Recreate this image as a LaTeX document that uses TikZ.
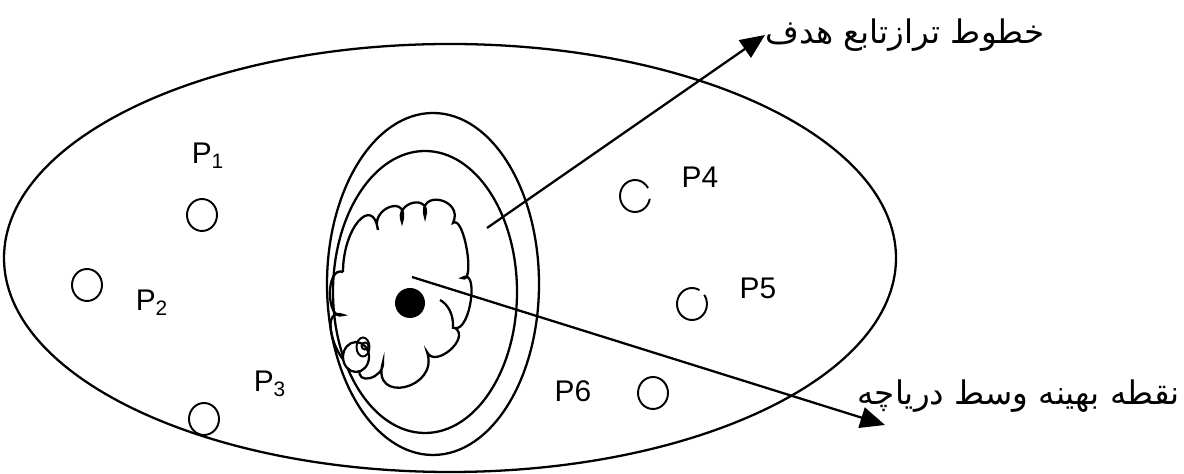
\documentclass[tikz,border=0pt]{standalone}
\usepackage{fontspec}
\setmainfont{Liberation Sans}
\newfontfamily\farsi[Script=Arabic]{DejaVu Sans}
\TeXXeTstate=1
\usepackage{tikz}
\usetikzlibrary{arrows.meta,positioning}
\tikzset{
  contorno/.style={draw=black,line width=1.3pt},
  punto/.style={draw=black,line width=1.1pt},
  flecha/.style={-{Triangle[length=14pt,width=12pt]},line width=1.3pt},
  etiq/.style={font=\fontsize{17}{20}\selectfont,inner sep=0pt},
  rotulo/.style={font=\farsi\fontsize{18.5}{22}\selectfont,inner sep=0pt}
}
\begin{document}
\begin{tikzpicture}
\useasboundingbox (0,0) rectangle (23.68,9.48);
% region exterior
\draw[contorno] (9,4.32) ellipse (8.92 and 4.28);
% curvas de nivel
\draw[contorno] (8.66,3.8) ellipse (2.12 and 3.42);
\draw[contorno] (8.5,3.64) ellipse (1.84 and 2.82);
% dariache
\draw[contorno] (6.86,4.04) .. controls +(0,0.9) and +(-0.1,0.7) .. (7.56,4.88)
  .. controls +(-0.17,0.45) and +(0.17,0.57) .. (8.04,5.04)
  .. controls +(-0.17,0.41) and +(0.15,0.48) .. (8.5,5.14)
  .. controls +(-0.17,0.57) and +(0.23,0.49) .. (9.06,5.02)
  .. controls +(0.22,0.18) and +(0.28,-0.15) .. (9.24,3.92)
  .. controls +(0.35,0.23) and +(0.31,-0.07) .. (9.1,2.92)
  .. controls +(0.32,-0.2) and +(0.16,-0.34) .. (8.54,2.44)
  .. controls +(0.26,-0.74) and +(-0.26,-0.86) .. (7.66,2.24)
  .. controls +(0.03,-0.33) and +(-0.11,-0.37) .. (7.2,2.12)
  .. controls +(-0.44,-0.12) and +(-0.54,0.2) .. (6.86,3.18)
  .. controls +(-0.35,-0.13) and +(-0.35,0.13) .. (6.86,4.04);
\draw[contorno] (8.8,3.48) .. controls (8.95,3.4) and (9.08,3.2) .. (9.06,2.9);
\draw[contorno,fill=white] (7.12,2.34) ellipse (0.26 and 0.3);
\draw[punto] (7.26,2.54) ellipse (0.13 and 0.19);
\draw[punto] (7.3,2.56) circle (0.07);
\fill (8.2,3.42) circle (0.3);
% puntos P
\draw[punto] (4.04,5.18) ellipse (0.3 and 0.32);
\draw[punto] (1.74,3.78) ellipse (0.3 and 0.32);
\draw[punto] (4.08,1.10) ellipse (0.3 and 0.32);
\draw[punto] ([shift={(0.26,0.16)}]12.7,5.56) arc[start angle=30,end angle=350,x radius=0.3,y radius=0.32];
\draw[punto] ([shift={(0.15,0.277)}]13.84,3.4) arc[start angle=60,end angle=395,x radius=0.3,y radius=0.32];
\draw[punto] (13.06,1.62) ellipse (0.3 and 0.32);
\node[etiq] (p1) at (4.16,6.36) {P\textsubscript{1}};
\node[etiq] (p2) at (3.04,3.42) {P\textsubscript{2}};
\node[etiq] (p3) at (5.4,1.8) {P\textsubscript{3}};
\node[etiq] (p4) at (14.0,5.94) {P4};
\node[etiq] (p5) at (15.16,3.72) {P5};
\node[etiq] (p6) at (11.46,1.66) {P6};
% rotulos y flechas
\coordinate (ini1) at (9.74,4.92);
\coordinate (ini2) at (8.24,3.94);
\coordinate (punta2) at (17.7,0.98);
\node[rotulo,anchor=west] (nivel) at (15.3,8.78) {\beginR خطوط ترازتابع هدف\endR};
\node[rotulo,anchor=east] (optimo) at (23.6,1.56) {\beginR نقطه بهینه وسط دریاچه\endR};
\draw[flecha] (ini1) -- (nivel.west);
\draw[flecha] (ini2) -- (punta2);
\end{tikzpicture}
\end{document}
